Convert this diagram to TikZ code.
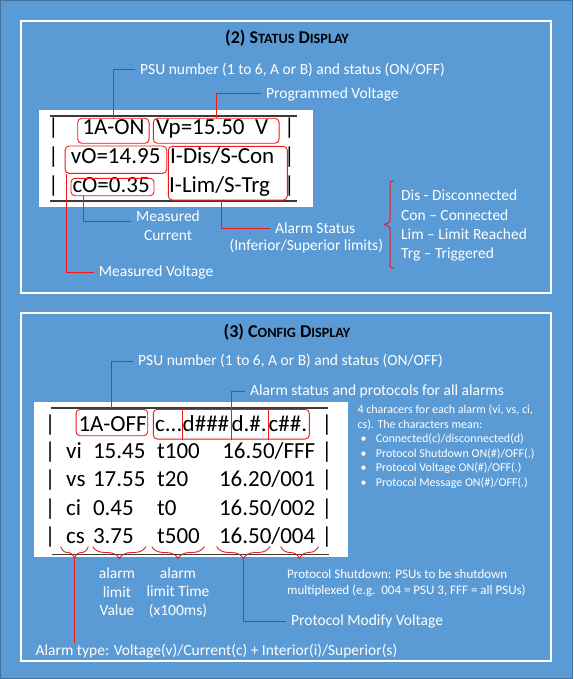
\documentclass[tikz,border=0pt]{standalone}
\usepackage{fontspec}
\setmainfont{Carlito}
\usetikzlibrary{
  decorations.pathreplacing,
  positioning
}
\definecolor{panelblue}{HTML}{5B9BD5}
\definecolor{edgeblue}{HTML}{41719C}
\definecolor{alarmred}{HTML}{F01818}
\definecolor{rulegray}{HTML}{3A3A3A}
\newcommand{\scpart}[1]{{\fontsize{14.2}{14.2}\selectfont #1}}
\tikzset{
  panel/.style={draw=white, line width=1.5pt},
  screen/.style={fill=white},
  rule/.style={draw=rulegray, line width=1.6pt},
  title/.style={font=\bfseries\fontsize{18}{18}\selectfont, text=black},
  lcdtext/.style={
    font=\fontsize{23}{23}\selectfont,
    text=black,
    inner sep=0pt,
    anchor=base west
  },
  redbox/.style={draw=alarmred, rounded corners=4pt, line width=0.9pt, inner sep=0pt},
  leader/.style={draw=alarmred, line width=1pt},
  callout/.style={
    font=\fontsize{15.5}{19}\selectfont,
    text=white,
    inner xsep=5pt,
    inner ysep=1pt,
    anchor=west
  },
  hint/.style={
    font=\fontsize{12}{14.5}\selectfont,
    text=white,
    align=left,
    inner sep=0pt,
    anchor=north west
  },
  sidebrace/.style={draw=alarmred, line width=1pt, rounded corners=2.5pt},
  underbrace/.style={
    draw=alarmred,
    line width=0.9pt,
    decorate,
    decoration={brace, amplitude=12pt}
  }
}

\begin{document}
\begin{tikzpicture}[x=1pt, y=-1pt]
  \useasboundingbox (0,0) rectangle (573,679);
  \fill[panelblue, draw=edgeblue, line width=1pt] (0.5,0.5) rectangle (572.5,678.5);
  \draw[panel] (21,21) rectangle (551,293);
  \draw[panel] (21,313) rectangle (551,661);

  \node[title] (stattitle) at (287,38) {(2) S\scpart{TATUS} D\scpart{ISPLAY}};
  \node[title] (conftitle) at (287,332) {(3) C\scpart{ONFIG} D\scpart{ISPLAY}};

  \fill[screen] (39,110) rectangle (313,207);
  \draw[rule] (50,116) -- (297,116);
  \draw[rule] (50,201) -- (297,201);
  \foreach \row/\y in {1/135, 2/164, 3/193} {
    \node[lcdtext] (spipel\row) at (48,\y) {|};
    \node[lcdtext] (spiper\row) at (284,\y) {|};
  }
  \node[lcdtext] (psuon) at (82.3,135) {1A-ON};
  \node[lcdtext] (vprog) at (156,135) {Vp=15.50\ \ V};
  \node[lcdtext] (vout) at (70.7,164) {vO=14.95};
  \node[lcdtext] (alrmcon) at (170,164) {I-Dis/S-Con};
  \node[lcdtext] (cout) at (72.3,193) {cO=0.35};
  \node[lcdtext] (alrmtrg) at (169,193) {I-Lim/S-Trg};

  \node[redbox, minimum width=71.3pt, minimum height=25pt] (onbox) at (113.4,130.8) {};
  \node[redbox, minimum width=125.7pt, minimum height=25pt] (vpbox) at (216.2,130.8) {};
  \node[redbox, minimum width=101.7pt, minimum height=27.3pt] (vobox) at (115.9,159.7) {};
  \node[redbox, minimum width=119pt, minimum height=53.7pt] (alrmbox) at (227.8,173.2) {};
  \node[redbox, minimum width=83pt, minimum height=17.4pt] (cobox) at (112.5,187) {};

  \node[callout] (psu2lbl) at (135,70) {PSU number (1 to 6, A or B) and status (ON/OFF)};
  \node[callout] (vplbl) at (261,94) {Programmed Voltage};
  \node[callout, align=center] (curlbl) at (131,226) {Measured\\Current};
  \node[callout] (alrmlbl) at (270,228) {Alarm Status};
  \node[callout, anchor=center] (limlbl) at (306.3,246) {(Inferior/Superior limits)};
  \node[callout] (mvlbl) at (93.7,272) {Measured Voltage};

  \draw[leader] (onbox.north) |- (psu2lbl.west);
  \draw[leader] (vpbox.north) |- (vplbl.west);
  \draw[leader] ([xshift=12.7pt]cobox.south west) |- ([yshift=5pt]curlbl.west);
  \draw[leader] ([xshift=-6pt]alrmbox.south) |- (alrmlbl.west);
  \draw[leader] ([xshift=1.5pt]vobox.south west) |- (mvlbl.west);

  \draw[sidebrace] (394,181) -- (390,181) -- (390,222.5) -- (383,224.5)
    -- (390,226.5) -- (390,268) -- (394,268);
  \node[callout, anchor=north west, align=left, font=\fontsize{15.5}{19.3}\selectfont]
    (codelist) at (396,189) {Dis - Disconnected\\Con -- Connected\\Lim -- Limit Reached\\Trg -- Triggered};

  \fill[screen] (33.5,402) rectangle (348,557);
  \draw[rule] (50.7,407.7) -- (327.7,407.7);
  \draw[rule] (52,554.3) -- (329,554.3);
  \foreach \row/\y in {1/431, 2/458.3, 3/486.7, 4/515, 5/543.3} {
    \node[lcdtext] (cpipel\row) at (44.7,\y) {|};
    \node[lcdtext] (cpiper\row) at (321.4,\y) {|};
  }
  \node[lcdtext] (psuoff) at (78.3,431) {1A-OFF};
  \node[lcdtext] (sega) at (155,431) {c...};
  \node[lcdtext] (segb) at (sega.base east) {d\#\#\#};
  \node[lcdtext] (segc) at ([xshift=2pt]segb.base east) {d.\#.};
  \node[lcdtext] (segd) at ([xshift=1.5pt]segc.base east) {c\#\#.};
  \foreach \kind/\y/\lim/\tim/\prot in {
      vi/458.3/15.45/t100/{16.50/FFF},
      vs/486.7/17.55/t20/{16.20/001},
      ci/515/0.45/t0/{16.50/002},
      cs/543.3/3.75/t500/{16.50/004}} {
    \node[lcdtext] (type\kind) at (66,\y) {\kind};
    \node[lcdtext] (lim\kind) at (92.8,\y) {\lim};
    \node[lcdtext] (tim\kind) at (157,\y) {\tim};
    \node[lcdtext, anchor=base east] (prot\kind) at (315.5,\y) {\prot};
  }

  \node[redbox, minimum width=71.7pt, minimum height=26.4pt] (offbox) at (111.9,422.5) {};
  \node[redbox, minimum width=156pt, minimum height=29.7pt] (cbox) at (231.3,424.2) {};
  \draw[leader] (segb.west |- cbox.north) -- (segb.west |- cbox.south);
  \draw[leader] (segd.west |- cbox.north) -- (segd.west |- cbox.south);

  \node[callout] (psu3lbl) at (133,361) {PSU number (1 to 6, A or B) and status (ON/OFF)};
  \node[callout] (alllbl) at (245,391) {Alarm status and protocols for all alarms};
  \draw[leader] (offbox.north) |- (psu3lbl.west);
  \draw[leader] (segc.west |- cbox.south) |- (alllbl.west);

  \node[hint] (note) at (357.3,405) {4 characers for each alarm (vi, vs, ci,\\
    cs). The characters mean:\\
    \makebox[18.4pt][l]{\hspace*{3pt}\textbullet}Connected(c)/disconnected(d)\\
    \makebox[18.4pt][l]{\hspace*{3pt}\textbullet}Protocol Shutdown ON(\#)/OFF(.)\\
    \makebox[18.4pt][l]{\hspace*{3pt}\textbullet}Protocol Voltage ON(\#)/OFF(.)\\
    \makebox[18.4pt][l]{\hspace*{3pt}\textbullet}Protocol Message ON(\#)/OFF(.)};

  \draw[underbrace] (88.3,546.5) -- (60.7,546.5);
  \draw[underbrace] (146,546.5) -- (92.7,546.5);
  \draw[underbrace] (204.3,546.5) -- (151.7,546.5);
  \draw[underbrace] (270,546.5) -- (216.7,546.5);
  \draw[underbrace] (318.3,546.5) -- (280.7,546.5);
  \coordinate (cstip) at (74.5,558.5);
  \coordinate (volttip) at (243.3,558.5);

  \node[callout, anchor=center, align=center, font=\fontsize{15.5}{18.5}\selectfont]
    (valuelbl) at (117,592) {alarm\\limit\\Value};
  \node[callout, anchor=center, align=center, font=\fontsize{15.5}{18.5}\selectfont]
    (timelbl) at (178,592.5) {alarm\\limit Time\\(x100ms)};
  \node[hint, font=\fontsize{13}{16.5}\selectfont] (shutlbl) at (287,569)
    {Protocol Shutdown: PSUs to be shutdown\\multiplexed (e.g.\ \ 004 = PSU 3, FFF = all PSUs)};
  \node[callout] (modlbl) at (286,621) {Protocol Modify Voltage};
  \node[callout] (typelbl) at (30.5,651)
    {Alarm type: Voltage(v)/Current(c) + Interior(i)/Superior(s)};

  \draw[leader] (cstip) -- (cstip |- typelbl.north);
  \draw[leader] (volttip) |- (modlbl.west);
\end{tikzpicture}
\end{document}
